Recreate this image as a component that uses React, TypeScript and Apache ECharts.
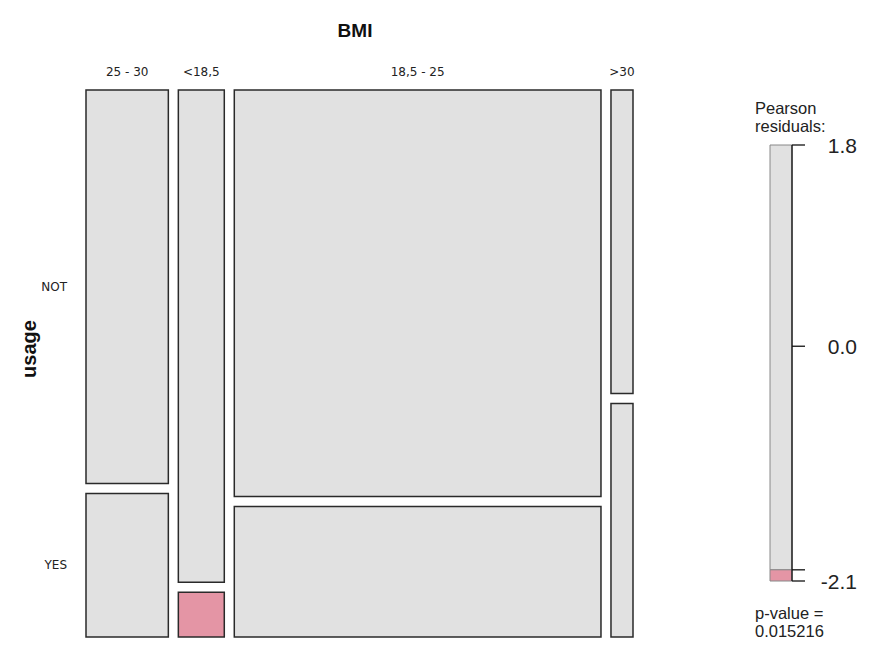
import React, { useEffect, useRef } from "react";
import * as echarts from "echarts";

// ---- data ----
const bmiCategories = ["25 - 30", "<18,5", "18,5 - 25", ">30"];
const usageLevels = ["NOT", "YES"];
const countsNot = [63, 44, 290, 13];
const countsYes = [23, 4, 93, 10];
const legendTickValues = [1.8, 0.0, -2.0, -2.1];
const legendLabelValues = [1.8, 0.0, -2.1];
const legendMin = -2.1;
const legendMax = 1.8;
const shadeCutoff = 2;
const pValueText = "0.015216";

// ---- layout ----
const W = 885;
const H = 659;
const GRID = { left: 86, top: 90, width: 547, height: 547 };
const GAP = 10;
const LEG = { left: 770, top: 145, width: 22, height: 436 };
const TICK_LEN = 13;

const GRAY = "#e1e1e1";
const PINK = "#e495a5";
const BLUE = "#8cb3e6";
const STROKE = "#2a2a2a";
const SANS = "Liberation Sans, Arial, sans-serif";

function buildCells() {
  const colTotals = countsNot.map((v, i) => v + countsYes[i]);
  const N = colTotals.reduce((a, b) => a + b, 0);
  const rowTotals = [countsNot.reduce((a, b) => a + b, 0), countsYes.reduce((a, b) => a + b, 0)];
  const gx = (GAP * N) / (GRID.width - (bmiCategories.length - 1) * GAP);
  const gy = GAP / (GRID.height - GAP);
  const cells: number[][] = [];
  let cum = 0;
  colTotals.forEach((ct, i) => {
    const x0 = cum + i * gx;
    const x1 = x0 + ct;
    const fNot = countsNot[i] / ct;
    const obs = [countsNot[i], countsYes[i]];
    obs.forEach((o, r) => {
      const exp = (ct * rowTotals[r]) / N;
      const res = (o - exp) / Math.sqrt(exp);
      const y0 = r === 0 ? 0 : fNot + gy;
      const y1 = r === 0 ? fNot : 1 + gy;
      cells.push([x0, x1, y0, y1, res, i, r]);
    });
    cum += ct;
  });
  return { cells, xMax: N + (bmiCategories.length - 1) * gx, yMax: 1 + gy };
}

export default function App() {
  const ref = useRef<HTMLDivElement>(null);
  useEffect(() => {
    if (!ref.current) return;
    const chart = echarts.init(ref.current, undefined, { renderer: "svg" });
    const { cells, xMax, yMax } = buildCells();
    // [from, to, kind]  kind: 0 = gray segment, -1 = pink segment, 2 = tick, 3 = right edge line
    const legendItems: number[][] = [
      [-shadeCutoff, legendMax, 0],
      [legendMin, -shadeCutoff, -1],
      [legendMin, legendMax, 3],
      ...legendTickValues.map((v) => [v, v, 2]),
    ];
    const option: any = {
      animation: false,
      backgroundColor: "#ffffff",
      grid: [
        { left: GRID.left, top: GRID.top, width: GRID.width, height: GRID.height },
        { left: LEG.left, top: LEG.top, width: LEG.width, height: LEG.height },
      ],
      xAxis: [
        { type: "value", gridIndex: 0, min: 0, max: xMax, show: false },
        { type: "value", gridIndex: 1, min: 0, max: 1, show: false },
      ],
      yAxis: [
        { type: "value", gridIndex: 0, min: 0, max: yMax, inverse: true, show: false },
        {
          type: "value",
          gridIndex: 1,
          min: legendMin,
          max: legendMax,
          position: "right",
          splitLine: { show: false },
          axisLine: { show: false },
          axisTick: { show: false },
          axisLabel: {
            show: true,
            customValues: legendLabelValues,
            formatter: (v: number) => v.toFixed(1),
            fontSize: 21,
            fontFamily: SANS,
            color: "#222",
            align: "right",
            margin: 65,
          },
        },
      ],
      series: [
        {
          type: "custom",
          xAxisIndex: 0,
          yAxisIndex: 0,
          data: cells,
          renderItem: (params: any, api: any) => {
            const x0 = api.value(0);
            const x1 = api.value(1);
            const y0 = api.value(2);
            const y1 = api.value(3);
            const r = api.value(4);
            const ci = api.value(5);
            const ri = api.value(6);
            const p0 = api.coord([x0, y0]);
            const p1 = api.coord([x1, y1]);
            const top = Math.min(p0[1], p1[1]);
            const h = Math.abs(p1[1] - p0[1]);
            const fill = r < -shadeCutoff ? PINK : r > shadeCutoff ? BLUE : GRAY;
            const children: any[] = [
              {
                type: "rect",
                shape: { x: p0[0], y: top, width: p1[0] - p0[0], height: h },
                style: { fill, stroke: STROKE, lineWidth: 1.5 },
              },
            ];
            if (ri === 0) {
              children.push({
                type: "text",
                style: {
                  text: bmiCategories[ci],
                  x: (p0[0] + p1[0]) / 2,
                  y: top - 18,
                  align: "center",
                  verticalAlign: "middle",
                  fontSize: 12,
                  fontFamily: "DejaVu Sans, sans-serif",
                  fill: "#222",
                },
              });
            }
            if (ci === 0) {
              children.push({
                type: "text",
                style: {
                  text: usageLevels[ri],
                  x: p0[0] - 19,
                  y: top + h / 2,
                  align: "right",
                  verticalAlign: "middle",
                  fontSize: 12,
                  fontFamily: "DejaVu Sans, sans-serif",
                  fill: "#222",
                },
              });
            }
            return { type: "group", children };
          },
        },
        {
          type: "custom",
          xAxisIndex: 1,
          yAxisIndex: 1,
          data: legendItems,
          renderItem: (params: any, api: any) => {
            const kind = api.value(2);
            const a = api.coord([0, api.value(0)]);
            const b = api.coord([1, api.value(1)]);
            if (kind === 2) {
              return {
                type: "line",
                shape: { x1: b[0], y1: b[1], x2: b[0] + TICK_LEN, y2: b[1] },
                style: { stroke: "#111", lineWidth: 1.3 },
                z2: 10,
              };
            }
            if (kind === 3) {
              return {
                type: "line",
                shape: { x1: b[0], y1: a[1], x2: b[0], y2: b[1] },
                style: { stroke: "#111", lineWidth: 1.3 },
                z2: 10,
              };
            }
            return {
              type: "rect",
              shape: {
                x: a[0],
                y: Math.min(a[1], b[1]),
                width: b[0] - a[0],
                height: Math.abs(b[1] - a[1]),
              },
              style: { fill: kind < 0 ? PINK : GRAY, stroke: "#888", lineWidth: 1 },
            };
          },
        },
      ],
      graphic: [
        {
          type: "text",
          x: 355,
          y: 30,
          style: {
            text: "BMI",
            align: "center",
            verticalAlign: "middle",
            fontSize: 19,
            fontWeight: "bold",
            fontFamily: SANS,
            fill: "#111",
          },
        },
        {
          type: "text",
          x: 29,
          y: 349,
          rotation: Math.PI / 2,
          style: {
            text: "usage",
            align: "center",
            verticalAlign: "middle",
            fontSize: 20,
            fontWeight: "bold",
            fontFamily: SANS,
            fill: "#111",
          },
        },
        {
          type: "text",
          x: 755,
          y: 108,
          style: { text: "Pearson", align: "left", verticalAlign: "middle", fontSize: 16.5, fontFamily: SANS, fill: "#222" },
        },
        {
          type: "text",
          x: 755,
          y: 126,
          style: { text: "residuals:", align: "left", verticalAlign: "middle", fontSize: 16.5, fontFamily: SANS, fill: "#222" },
        },
        {
          type: "text",
          x: 755,
          y: 613,
          style: { text: "p-value =", align: "left", verticalAlign: "middle", fontSize: 16.5, fontFamily: SANS, fill: "#222" },
        },
        {
          type: "text",
          x: 755,
          y: 631,
          style: { text: pValueText, align: "left", verticalAlign: "middle", fontSize: 16.5, fontFamily: SANS, fill: "#222" },
        },
      ],
    };
    chart.setOption(option);
    return () => chart.dispose();
  }, []);
  return (
    <div
      ref={ref}
      style={{ position: "absolute", left: 0, top: 0, width: W, height: H, background: "#fff" }}
    />
  );
}
